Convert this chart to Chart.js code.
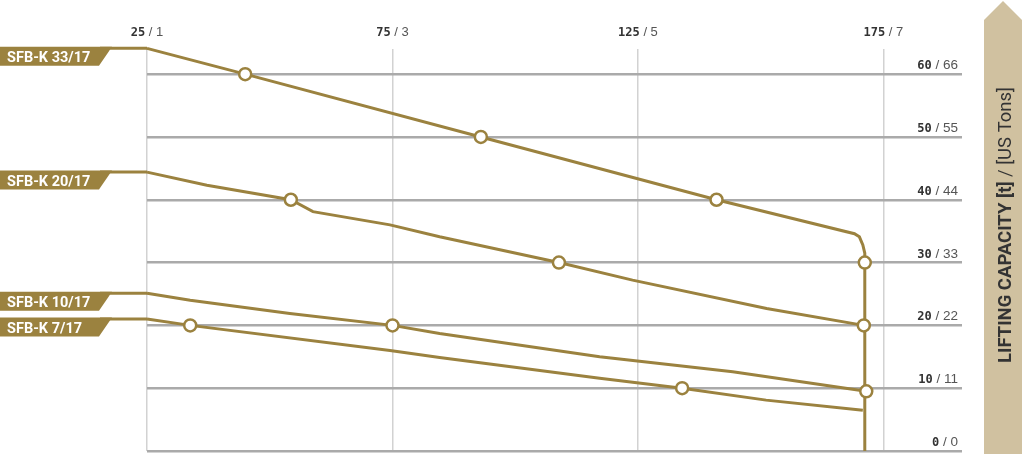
<!DOCTYPE html>
<html>
<head>
<meta charset="utf-8">
<script src="https://cdn.jsdelivr.net/npm/chart.js@4.4.1/dist/chart.umd.min.js"></script>
<style>
html, body { margin: 0; padding: 0; background: #fff; overflow: hidden; }
#wrap { width: 1024px; height: 454px; position: relative; }
</style>
</head>
<body>
<div id="wrap"><canvas id="myChart"></canvas></div>
<script>
// tick labels: metric / imperial
var xTicks = [25, 75, 125, 175];
var xTicksSecond = [1, 3, 5, 7];
var yTicks = [0, 10, 20, 30, 40, 50, 60];
var yTicksSecond = [0, 11, 22, 33, 44, 55, 66];

var names = ['SFB-K 33/17', 'SFB-K 20/17', 'SFB-K 10/17', 'SFB-K 7/17'];

// curve of each model
var line33x = [25, 45, 93, 141, 169.1, 170.1, 170.8, 171.2, 171.2, 171.2];
var line33y = [64.1, 60, 50, 40, 34.6, 34.1, 32.8, 31.5, 30, 0];
var line20x = [25, 37.2, 54.3, 58.8, 74.5, 84.6, 108.9, 123.9, 151.2, 171.0];
var line20y = [44.4, 42.3, 40, 38.1, 36.0, 34.1, 30, 27.2, 22.7, 20];
var line10x = [25, 33.8, 54.1, 75, 84.6, 117.2, 144.3, 171.5];
var line10y = [25.1, 24.0, 21.9, 20, 18.7, 15.0, 12.6, 9.5];
var line7x = [25, 33.8, 74.5, 84.6, 117.2, 134, 151.1, 170.8];
var line7y = [21.0, 20, 16.0, 14.9, 11.6, 10, 8.1, 6.5];

// circles on the curves
var mark33x = [45, 93, 141, 171.2];
var mark33y = [60, 50, 40, 30];
var mark20x = [54.3, 108.9, 171.0];
var mark20y = [40, 30, 20];
var mark10x = [75, 171.5];
var mark10y = [20, 9.5];
var mark7x = [33.8, 134];
var mark7y = [20, 10];

var gold = '#9b823f';

function pts(xs, ys) {
    return xs.map(function (v, i) { return { x: v, y: ys[i] }; });
}

var lines = [pts(line33x, line33y), pts(line20x, line20y), pts(line10x, line10y), pts(line7x, line7y)];
var marks = [pts(mark33x, mark33y), pts(mark20x, mark20y), pts(mark10x, mark10y), pts(mark7x, mark7y)];

var datasets = [];
lines.forEach(function (d, i) {
    datasets.push({
        label: names[i],
        data: d,
        showLine: true,
        borderColor: gold,
        borderWidth: 3,
        pointRadius: 0,
        tension: 0,
        clip: false,
        order: 2
    });
});
marks.forEach(function (d, i) {
    datasets.push({
        label: names[i] + ' points',
        data: d,
        showLine: false,
        pointRadius: 6,
        pointBorderWidth: 2.5,
        pointBackgroundColor: '#ffffff',
        pointBorderColor: gold,
        clip: false,
        order: 1
    });
});

var decor = {
    id: 'decor',
    afterDraw: function (chart) {
        var ctx = chart.ctx;
        var xs = chart.scales.x, ys = chart.scales.y;
        ctx.save();

        // top labels
        ctx.textBaseline = 'alphabetic';
        xTicks.forEach(function (v, i) {
            var a = String(v), b = ' / ' + xTicksSecond[i];
            ctx.font = 'bold 12px "DejaVu Sans Mono"';
            var wa = ctx.measureText(a).width;
            ctx.font = '13px "Liberation Sans"';
            var wb = ctx.measureText(b).width;
            var left = xs.getPixelForValue(v) - (wa + wb) / 2;
            ctx.font = 'bold 12px "DejaVu Sans Mono"';
            ctx.fillStyle = '#333';
            ctx.fillText(a, left, 36);
            ctx.font = '13px "Liberation Sans"';
            ctx.fillStyle = '#555';
            ctx.fillText(b, left + wa, 36);
        });

        // right labels
        yTicks.forEach(function (v, i) {
            var a = String(v), b = ' / ' + yTicksSecond[i];
            ctx.font = '13.5px "Liberation Sans"';
            var wb = ctx.measureText(b).width;
            ctx.font = 'bold 12px "DejaVu Sans Mono"';
            var wa = ctx.measureText(a).width;
            var right = chart.chartArea.right - 4;
            var y = ys.getPixelForValue(v) - 5;
            ctx.fillStyle = '#333';
            ctx.fillText(a, right - wb - wa, y);
            ctx.font = '13.5px "Liberation Sans"';
            ctx.fillStyle = '#555';
            ctx.fillText(b, right - wb, y);
        });

        // flags on the left
        lines.forEach(function (d, i) {
            var yp = ys.getPixelForValue(d[0].y);
            var xp = xs.getPixelForValue(d[0].x);
            ctx.fillStyle = gold;
            ctx.beginPath();
            ctx.moveTo(0, yp - 1.5);
            ctx.lineTo(112, yp - 1.5);
            ctx.lineTo(99, yp + 17.5);
            ctx.lineTo(0, yp + 17.5);
            ctx.closePath();
            ctx.fill();
            ctx.strokeStyle = gold;
            ctx.lineWidth = 3;
            ctx.beginPath();
            ctx.moveTo(100, yp);
            ctx.lineTo(xp, yp);
            ctx.stroke();
            ctx.fillStyle = '#fff';
            ctx.font = 'bold 14.5px Roboto';
            ctx.fillText(names[i], 7, yp + 14);
        });

        // arrow with the axis title
        ctx.fillStyle = '#d0c1a0';
        ctx.beginPath();
        ctx.moveTo(1003, 1);
        ctx.lineTo(1022, 20);
        ctx.lineTo(1022, 454);
        ctx.lineTo(984, 454);
        ctx.lineTo(984, 20);
        ctx.closePath();
        ctx.fill();

        ctx.translate(1011, 225);
        ctx.rotate(-Math.PI / 2);
        var t1 = 'LIFTING CAPACITY [t]', t2 = ' / [US Tons]';
        ctx.font = 'bold 18.5px Roboto';
        var w1 = ctx.measureText(t1).width;
        ctx.font = '18.5px Roboto';
        var w2 = ctx.measureText(t2).width;
        var s = -(w1 + w2) / 2;
        ctx.fillStyle = '#333';
        ctx.font = 'bold 18.5px Roboto';
        ctx.fillText(t1, s, 0);
        ctx.font = '18.5px Roboto';
        ctx.fillText(t2, s + w1, 0);

        ctx.restore();
    }
};

var ctx = document.getElementById('myChart').getContext('2d');
var liftChart = new Chart(ctx, {
    type: 'scatter',
    data: { datasets: datasets },
    options: {
        responsive: true,
        maintainAspectRatio: false,
        animation: false,
        layout: { autoPadding: false, padding: { left: 147, right: 62, top: 49, bottom: 3 } },
        plugins: { legend: { display: false }, tooltip: { enabled: false } },
        scales: {
            x: {
                type: 'linear',
                min: 25,
                max: 191,
                afterBuildTicks: function (scale) {
                    scale.ticks = xTicks.map(function (v) { return { value: v }; });
                },
                ticks: { display: false },
                border: { display: false },
                grid: { color: '#d2d2d2', lineWidth: 1.5, drawTicks: false }
            },
            y: {
                type: 'linear',
                min: 0,
                max: 64,
                afterBuildTicks: function (scale) {
                    scale.ticks = yTicks.map(function (v) { return { value: v }; });
                },
                ticks: { display: false },
                border: { display: false },
                grid: { color: '#aaaaaa', lineWidth: 2.5, drawTicks: false }
            }
        }
    },
    plugins: [decor]
});
</script>
</body>
</html>
